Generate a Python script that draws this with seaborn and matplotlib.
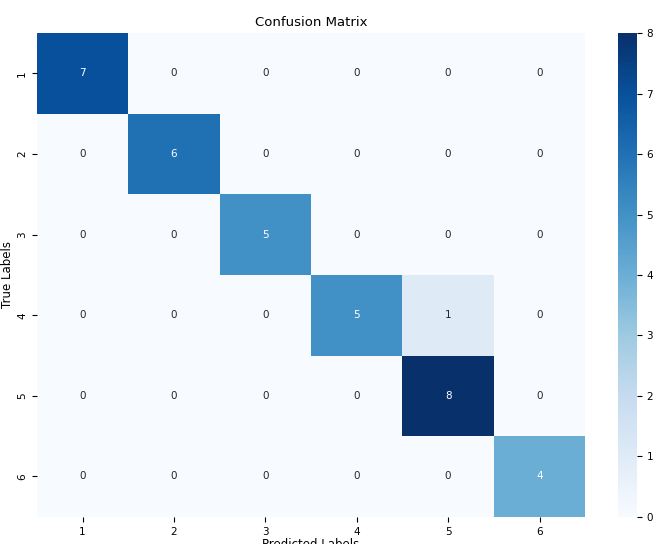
import matplotlib
matplotlib.use("Agg")
import matplotlib.pyplot as plt
import seaborn as sns
import numpy as np

labels = ["1", "2", "3", "4", "5", "6"]
row1 = [7, 0, 0, 0, 0, 0]
row2 = [0, 6, 0, 0, 0, 0]
row3 = [0, 0, 5, 0, 0, 0]
row4 = [0, 0, 0, 5, 1, 0]
row5 = [0, 0, 0, 0, 8, 0]
row6 = [0, 0, 0, 0, 0, 4]

cm = np.array([row1, row2, row3, row4, row5, row6])

fig = plt.figure(figsize=(6.59, 5.44), dpi=100)
ax = fig.add_axes([0.056, 0.050, 0.832, 0.889])
cax = fig.add_axes([0.938, 0.050, 0.028, 0.889])
sns.heatmap(cm, annot=True, fmt="d", cmap="Blues", xticklabels=labels,
            yticklabels=labels, ax=ax, cbar_ax=cax, annot_kws={"size": 7.5})
ax.set_title("Confusion Matrix", fontsize=9.5, pad=5)
ax.set_xlabel("Predicted Labels", fontsize=8.5, labelpad=1)
ax.set_ylabel("True Labels", fontsize=8.5, labelpad=2)
ax.tick_params(labelsize=7.5)
cax.tick_params(labelsize=7.5)
fig.savefig("out.png", dpi=100)
